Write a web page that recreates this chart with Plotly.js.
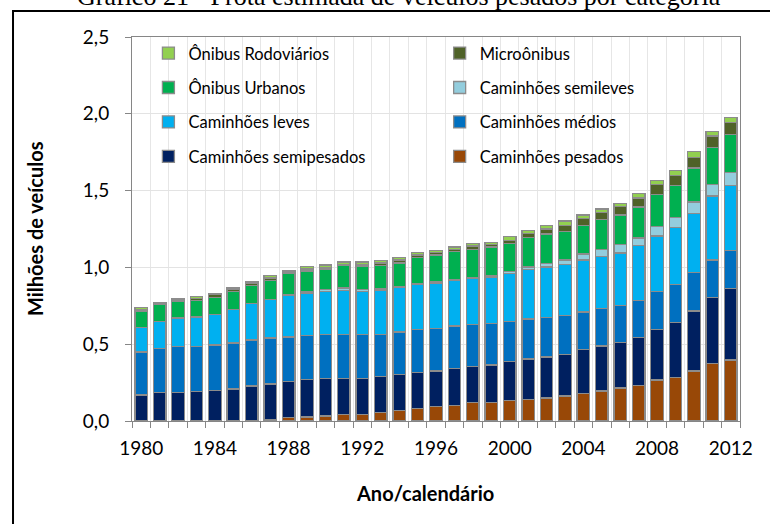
<!DOCTYPE html>
<html>
<head>
<meta charset="utf-8">
<script src="https://cdn.plot.ly/plotly-3.0.1.min.js"></script>
<style>html,body{margin:0;padding:0;background:#fff;}#chart{width:770px;height:524px;}</style>
</head>
<body>
<div id="chart"></div>
<script>
var years = [1980,1981,1982,1983,1984,1985,1986,1987,1988,1989,1990,1991,1992,1993,1994,1995,1996,1997,1998,1999,2000,2001,2002,2003,2004,2005,2006,2007,2008,2009,2010,2011,2012];
var tickYears = [1980,1984,1988,1992,1996,2000,2004,2008,2012];

var pesados = [0,0,0,0,0,0.003,0.004,0.012,0.022,0.026,0.033,0.042,0.042,0.057,0.070,0.080,0.096,0.102,0.120,0.120,0.135,0.142,0.150,0.163,0.181,0.196,0.214,0.233,0.266,0.281,0.325,0.373,0.397];
var semipesados = [0.170,0.185,0.185,0.192,0.200,0.206,0.223,0.228,0.235,0.244,0.244,0.237,0.237,0.231,0.233,0.238,0.229,0.238,0.237,0.244,0.251,0.261,0.266,0.270,0.285,0.292,0.296,0.309,0.331,0.360,0.392,0.429,0.466];
var medios = [0.279,0.286,0.301,0.294,0.295,0.299,0.300,0.300,0.290,0.286,0.287,0.285,0.285,0.276,0.277,0.279,0.278,0.279,0.270,0.270,0.263,0.262,0.257,0.255,0.244,0.244,0.240,0.244,0.246,0.246,0.248,0.246,0.246];
var leves = [0.161,0.178,0.185,0.192,0.200,0.217,0.238,0.253,0.272,0.278,0.277,0.284,0.277,0.288,0.287,0.290,0.294,0.294,0.301,0.303,0.310,0.322,0.329,0.330,0.338,0.340,0.344,0.358,0.362,0.374,0.386,0.416,0.425];
var semileves = [0,0,0,0,0,0,0,0,0.005,0.005,0.017,0.017,0.015,0.008,0.009,0.010,0.008,0.007,0.007,0.008,0.013,0.015,0.022,0.030,0.039,0.044,0.054,0.048,0.061,0.064,0.074,0.074,0.082];
var urbanos = [0.104,0.109,0.111,0.108,0.111,0.116,0.119,0.122,0.137,0.137,0.131,0.146,0.148,0.151,0.152,0.168,0.175,0.182,0.183,0.188,0.185,0.192,0.194,0.187,0.186,0.196,0.194,0.202,0.207,0.209,0.222,0.244,0.249];
var microonibus = [0.008,0.005,0.005,0.012,0.016,0.014,0.014,0.016,0.010,0.013,0.012,0.010,0.012,0.018,0.020,0.015,0.015,0.016,0.022,0.015,0.019,0.026,0.032,0.038,0.047,0.045,0.055,0.057,0.065,0.065,0.069,0.074,0.078];
var rodoviarios = [0.015,0.010,0.010,0.014,0.006,0.010,0.012,0.015,0.011,0.015,0.014,0.014,0.019,0.015,0.017,0.016,0.014,0.015,0.017,0.015,0.024,0.022,0.023,0.030,0.022,0.024,0.021,0.028,0.029,0.033,0.040,0.031,0.035];

var seriesNames = ['Caminhões pesados','Caminhões semipesados','Caminhões médios','Caminhões leves','Caminhões semileves','Ônibus Urbanos','Microônibus','Ônibus Rodoviários'];
var seriesValues = [pesados, semipesados, medios, leves, semileves, urbanos, microonibus, rodoviarios];
var seriesColors = ['#984807','#002060','#0070C0','#00B0F0','#93CDDD','#00B050','#4F6228','#92D050'];
var seriesLegend = ['legend2','legend','legend2','legend','legend2','legend','legend2','legend'];

var traces = seriesNames.map(function(n, i){
  return {
    type: 'bar', name: n, x: years, y: seriesValues[i],
    marker: {color: seriesColors[i], line: {color: '#8C8C8C', width: 1.3}},
    legend: seriesLegend[i], legendgroup: 'g' + i, legendrank: 100 - i,
    hoverinfo: 'x+y+name'
  };
});

var F = 'Lato, "Open Sans", sans-serif';
var legendCommon = {
  bgcolor: 'rgba(0,0,0,0)', borderwidth: 0,
  font: {family: F, size: 16.5, color: '#000'},
  traceorder: 'grouped', tracegroupgap: 10,
  xanchor: 'left', yanchor: 'top', orientation: 'v'
};
var legend1 = Object.assign({}, legendCommon, {x: 0.027, y: 1.003});
var legend2 = Object.assign({}, legendCommon, {x: 0.506, y: 1.003});

var layout = {
  width: 770, height: 524,
  margin: {l: 132, r: 30, t: 37, b: 103, pad: 0},
  paper_bgcolor: '#fff', plot_bgcolor: '#fff',
  barmode: 'stack', bargap: 0.32,
  separators: ',.',
  showlegend: true,
  legend: legend1, legend2: legend2,
  xaxis: {
    type: 'linear', range: [1979.5, 2012.5],
    tickmode: 'array', tickvals: tickYears, ticktext: tickYears.map(String),
    ticks: '', showgrid: false, zeroline: false,
    showline: true, linecolor: '#868686', linewidth: 1, mirror: true,
    tickfont: {family: F, size: 19, color: '#000'},
    ticklabelstandoff: 10,
    minor: {tick0: 1979.5, dtick: 1, ticks: 'outside', ticklen: 6, tickcolor: '#868686', tickwidth: 1, showgrid: true, gridcolor: '#E6E6E6', gridwidth: 1}
  },
  yaxis: {
    range: [0, 2.5], dtick: 0.5, tick0: 0, tickformat: '.1f',
    ticks: 'outside', ticklen: 6, tickcolor: '#868686',
    showgrid: true, gridcolor: '#E3E3E3', gridwidth: 1, zeroline: false,
    showline: true, linecolor: '#868686', linewidth: 1, mirror: true,
    tickfont: {family: F, size: 19, color: '#000'},
    ticklabelstandoff: 12
  },
  annotations: [
    {text: 'Gráfico 21 - Frota estimada de veículos pesados por categoria', xref: 'paper', yref: 'paper',
     x: 0.439, y: 1.0625, xanchor: 'center', yanchor: 'bottom', showarrow: false,
     font: {family: '"Liberation Serif", "Times New Roman", serif', size: 26, color: '#000'}},
    {text: '<b>Milhões de veículos</b>', xref: 'paper', yref: 'paper', textangle: -90,
     x: -0.1595, y: 0.5, xanchor: 'center', yanchor: 'middle', showarrow: false,
     font: {family: F, size: 20, color: '#000'}},
    {text: '<b>Ano/calendário</b>', xref: 'paper', yref: 'paper',
     x: 0.482, y: -0.1875, xanchor: 'center', yanchor: 'middle', showarrow: false,
     font: {family: F, size: 20, color: '#000'}}
  ],
  shapes: [
    {type: 'rect', xref: 'paper', yref: 'paper', x0: -0.1957, x1: 1.07, y0: -0.35, y1: 1.0677,
     line: {color: '#000', width: 2}, fillcolor: 'rgba(0,0,0,0)', layer: 'above'}
  ]
};

Plotly.newPlot('chart', traces, layout, {displayModeBar: false, staticPlot: true});
</script>
</body>
</html>
